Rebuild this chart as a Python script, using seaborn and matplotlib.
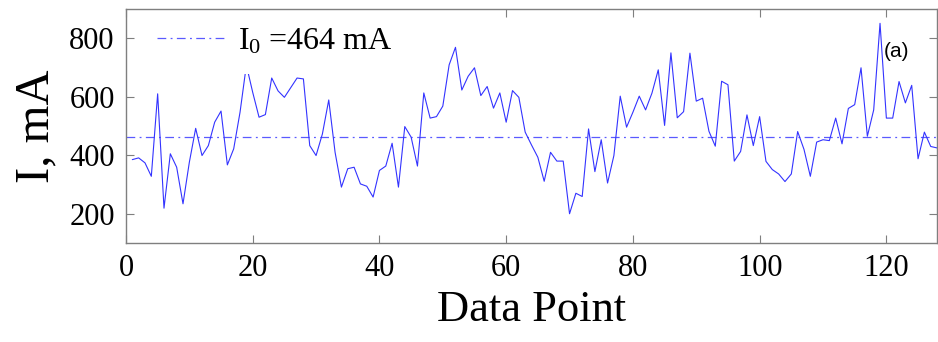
import numpy as np
import pandas as pd
import seaborn as sns
import matplotlib.pyplot as plt

# current readings, data points 1..128
current = [385, 391, 374, 328, 610, 219, 405, 359, 234, 376,
           492, 399, 433, 513, 551, 367, 422, 547, 708, 615,
           530, 539, 664, 620, 598, 631, 664, 661, 433, 399,
           473, 589, 410, 291, 354, 359, 302, 294, 257, 348,
           363, 441, 291, 498, 462, 363, 613, 527, 532, 568,
           709, 769, 623, 670, 699, 604, 635, 561, 613, 513,
           621, 598, 479, 435, 393, 311, 410, 380, 380, 200,
           270, 259, 490, 344, 453, 305, 399, 602, 496, 547,
           602, 555, 612, 692, 502, 750, 528, 549, 749, 585,
           595, 482, 431, 653, 641, 380, 413, 538, 433, 532,
           379, 351, 336, 310, 336, 481, 420, 328, 445, 453,
           450, 527, 439, 560, 573, 699, 465, 555, 851, 527,
           527, 652, 579, 639, 388, 479, 430, 425]
points = list(range(1, len(current) + 1))
I0 = 464
x_ticks = [0, 20, 40, 60, 80, 100, 120]
y_ticks = [200, 400, 600, 800]

df = pd.DataFrame({'point': points, 'current': current})

sns.set_style('white')
plt.rcParams['font.family'] = ['Liberation Serif', 'DejaVu Serif']
plt.rcParams['mathtext.fontset'] = 'custom'
plt.rcParams['mathtext.rm'] = 'Liberation Serif'
plt.rcParams['text.color'] = 'black'
plt.rcParams['axes.labelcolor'] = 'black'

fig = plt.figure(figsize=(9.38, 3.42), dpi=100)
ax = fig.add_axes([0.1343, 0.2895, 0.8647, 0.6842])

sns.lineplot(data=df, x='point', y='current', ax=ax, color='#3333ff',
             linewidth=0.8, zorder=2)
ax.axhline(I0, color='#5a5aff', linewidth=0.9, linestyle=(0, (7, 3.5, 1.5, 3.5)),
           label=r'$\mathregular{I_0}$ =%d mA' % I0, zorder=1)

ax.set_xlim(0, 128)
ax.set_ylim(100, 900)
ax.set_xticks(x_ticks)
ax.set_yticks(y_ticks)
ax.tick_params(direction='in', length=6, width=0.8, color='#7f7f7f',
               bottom=True, left=True, top=True, right=True,
               labelsize=22, labelcolor='black', pad=8)
for s in ax.spines.values():
    s.set_color('#7f7f7f')
    s.set_linewidth(1.0)
    s.set_zorder(6)

ax.set_xlabel('Data Point', fontsize=32, labelpad=5)
ax.set_ylabel('I, mA', fontsize=35, labelpad=8)

leg = ax.legend(loc='upper left', bbox_to_anchor=(0.016, 1.0), borderaxespad=0,
                fontsize=23, handlelength=2.25, handletextpad=0.3,
                frameon=True, framealpha=1, facecolor='white', edgecolor='none',
                fancybox=False, borderpad=0.55)
leg.set_zorder(5)

ax.text(119.6, 755, '(a)', fontsize=15, family='Liberation Sans',
        va='center', ha='left')

plt.savefig('out.png', dpi=100)
plt.close()
